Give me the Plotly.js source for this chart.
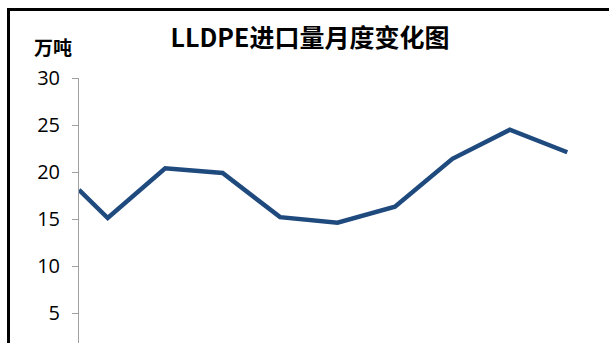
<!DOCTYPE html>
<html>
<head>
<meta charset="utf-8">
<script src="https://cdn.plot.ly/plotly-3.0.1.min.js"></script>
<style>
html, body { margin: 0; padding: 0; width: 609px; height: 343px; overflow: hidden; background: #fff; }
#frame { position: absolute; left: 7px; top: 8px; width: 700px; height: 500px; border-left: 3px solid #000; border-top: 3px solid #000; pointer-events: none; z-index: 5; }
#chart { position: absolute; left: 0; top: 0; width: 609px; height: 400px; }
</style>
</head>
<body>
<div id="chart"></div>
<div id="frame"></div>
<script>
// Month positions (first point sits half a category before the first full month)
const monthPos = [0.5, 1, 2, 3, 4, 5, 6, 7, 8, 9];
// Import volume, 万吨
const importVol = [18.1, 15.1, 20.4, 19.9, 15.2, 14.6, 16.3, 21.4, 24.5, 22.1];
const yTicks = [5, 10, 15, 20, 25, 30];
const titleText = 'LLDPE进口量月度变化图';
const unitText = '万吨';

const trace = {
  x: monthPos,
  y: importVol,
  type: 'scatter',
  mode: 'lines',
  line: { color: '#1F4A7E', width: 4.5 },
  hoverinfo: 'skip',
  showlegend: false
};

const layout = {
  width: 609,
  height: 400,
  margin: { l: 79, r: 13, t: 78, b: 40 },
  paper_bgcolor: '#fff',
  plot_bgcolor: '#fff',
  font: { family: '"Open Sans", "Noto Sans CJK SC", sans-serif', color: '#000' },
  title: {
    text: '<b>' + titleText + '</b>',
    font: { family: '"Noto Sans CJK SC", "Open Sans", sans-serif', size: 25, color: '#000' },
    x: 310 / 609, xanchor: 'center', xref: 'container',
    y: 1 - 38 / 400, yanchor: 'middle', yref: 'container'
  },
  xaxis: {
    range: [0.5, 9.5],
    showgrid: false, zeroline: false, showticklabels: false,
    showline: true, linecolor: '#a0a0a0', ticks: ''
  },
  yaxis: {
    range: [0, 30],
    tickvals: yTicks,
    ticktext: yTicks.map(String),
    showgrid: false, zeroline: false,
    showline: true, linecolor: '#a0a0a0', linewidth: 1,
    ticks: 'outside', ticklen: 6, tickcolor: '#a0a0a0',
    ticklabelstandoff: 8,
    tickfont: { family: '"Open Sans", sans-serif', size: 20, color: '#000' }
  },
  annotations: [{
    text: '<b>' + unitText + '</b>',
    xref: 'paper', yref: 'paper',
    x: (53 - 79) / 517, y: 1 + 32 / 282,
    xanchor: 'center', yanchor: 'middle',
    showarrow: false,
    font: { family: '"Noto Sans CJK SC", sans-serif', size: 19, color: '#000' }
  }]
};

Plotly.newPlot('chart', [trace], layout, { displayModeBar: false, staticPlot: true });
</script>
</body>
</html>
